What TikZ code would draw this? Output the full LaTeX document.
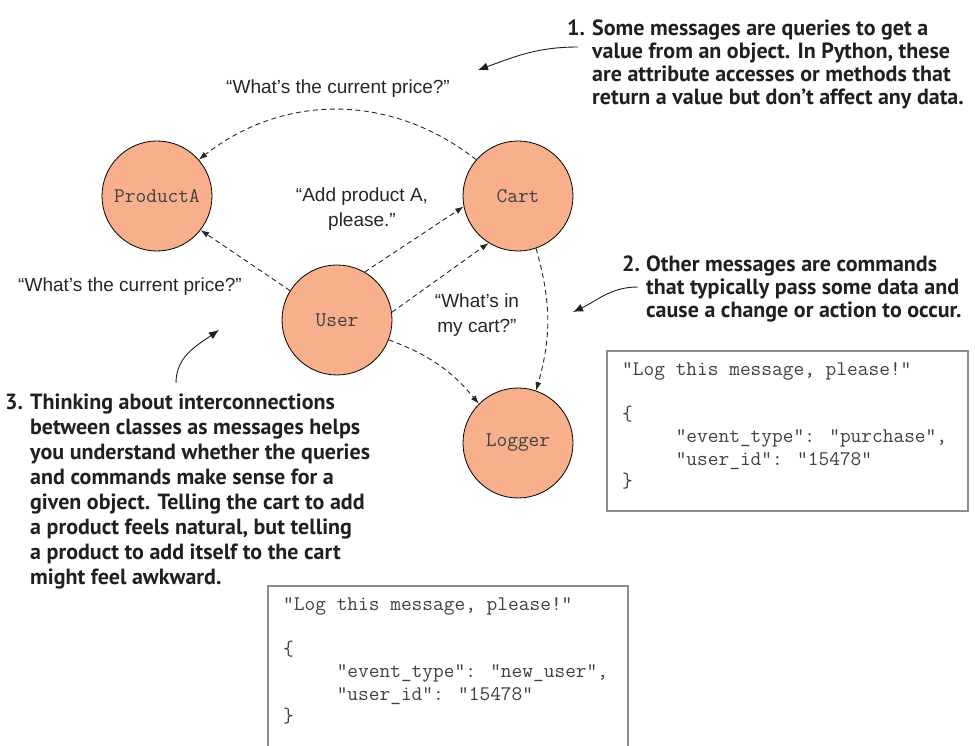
\documentclass[tikz,border=0pt]{standalone}
\usepackage{fontspec}
\setmainfont{Liberation Sans}
\newfontfamily\annfont{PT Sans}
\usetikzlibrary{arrows.meta}
\definecolor{salmon}{RGB}{248,176,140}
\definecolor{boxgray}{RGB}{140,140,140}
\definecolor{ink}{RGB}{35,31,32}
\newcommand{\ind}{\hphantom{xxxxx}}
\begin{document}
\begin{tikzpicture}[x=1pt,y=1pt,
  obj/.style={circle, draw=black, line width=0.8pt, fill=salmon, minimum size=110pt, inner sep=0pt,
    text=black!75, font=\ttfamily\fontsize{20.8}{22.5}\selectfont},
  msg/.style={draw=black!85, line width=0.9pt, dash pattern=on 5pt off 3.5pt,
    -{Latex[length=8.5pt,width=6pt]}},
  note/.style={draw=ink, line width=0.9pt, -{Latex[length=10pt,width=8pt]}},
  lbl/.style={font=\fontsize{19}{25}\selectfont, text=black!85, align=center, inner sep=0pt},
  ann/.style={font=\annfont\bfseries\fontsize{22}{23}\selectfont, text=ink, align=left,
    inner sep=0pt, anchor=north west},
  annlong/.style={ann, font=\annfont\bfseries\fontsize{22}{25}\selectfont},
  code/.style={font=\ttfamily\fontsize{20.8}{22.5}\selectfont, align=left, inner sep=0pt,
    anchor=north west, text=black!75},
  codebox/.style={draw=boxgray, line width=1.2pt}
]
\useasboundingbox (0,0) rectangle (975,745);

% objects
\node[obj] (productA) at (157,549) {ProductA};
\node[obj] (cart) at (518,549) {Cart};
\node[obj] (user) at (337,425) {User};
\node[obj] (logger) at (518,302) {Logger};

% message labels
\node[lbl] (qtop) at (338,656) {“What’s the current price?”};
\node[lbl] (qleft) at (130,458) {“What’s the current price?”};
\node[lbl] (qadd) at (362,536) {“Add product A,\\ please.”};
\node[lbl] (qcart) at (477,430) {“What’s in\\ my cart?”};

% messages
\draw[msg] (cart.139) to[bend right=38] (productA.41);
\draw[msg] (user.148) -- (productA.-38);
\draw[msg] (user.60) -- (cart.191);
\draw[msg] (user.8) -- (cart.238);
\draw[msg] (user.-21) to[bend left=15] (logger.135);
\draw[msg] (cart.-71) to[bend left=16] (logger.71);

% annotation 1
\node[ann] (n1num) at (567,725) {1.};
\node[ann] (n1) at (592,725) {Some messages are queries to get a\\
value from an object. In Python, these\\
are attribute accesses or methods that\\
return a value but don’t affect any data.};
\coordinate (a1s) at (578,698);
\coordinate (a1e) at (478,675);
\draw[note] (a1s) to[out=180,in=20] (a1e);

% annotation 2
\node[ann] (n2num) at (622,489) {2.};
\node[ann] (n2) at (646,489) {Other messages are commands\\
that typically pass some data and\\
cause a change or action to occur.};
\coordinate (a2s) at (638,458);
\coordinate (a2e) at (573,433);
\draw[note] (a2s) to[out=180,in=25] (a2e);

% annotation 3
\node[annlong] (n3num) at (5,351) {3.};
\node[annlong] (n3) at (30,351) {Thinking about interconnections\\
between classes as messages helps\\
you understand whether the queries\\
and commands make sense for a\\
given object. Telling the cart to add\\
a product feels natural, but telling\\
a product to add itself to the cart\\
might feel awkward.};
\coordinate (a3s) at (176,362);
\coordinate (a3e) at (219,415);
\draw[note] (a3s) to[out=90,in=215] (a3e);

% code box 1
\draw[codebox] (607,234) rectangle (968,394);
\node[code] (code1) at (622,383) {"Log this message, please!"\\[22.5pt]
\{\\
\ind"event\_type": “purchase",\\
\ind"user\_id": "15478"\\
\}};

% code box 2
\draw[codebox] (268,-5) -- (268,159) -- (628,159) -- (628,-5);
\node[code] (code2) at (283,148) {"Log this message, please!"\\[22.5pt]
\{\\
\ind"event\_type": "new\_user",\\
\ind"user\_id": "15478"\\
\}};
\end{tikzpicture}
\end{document}
